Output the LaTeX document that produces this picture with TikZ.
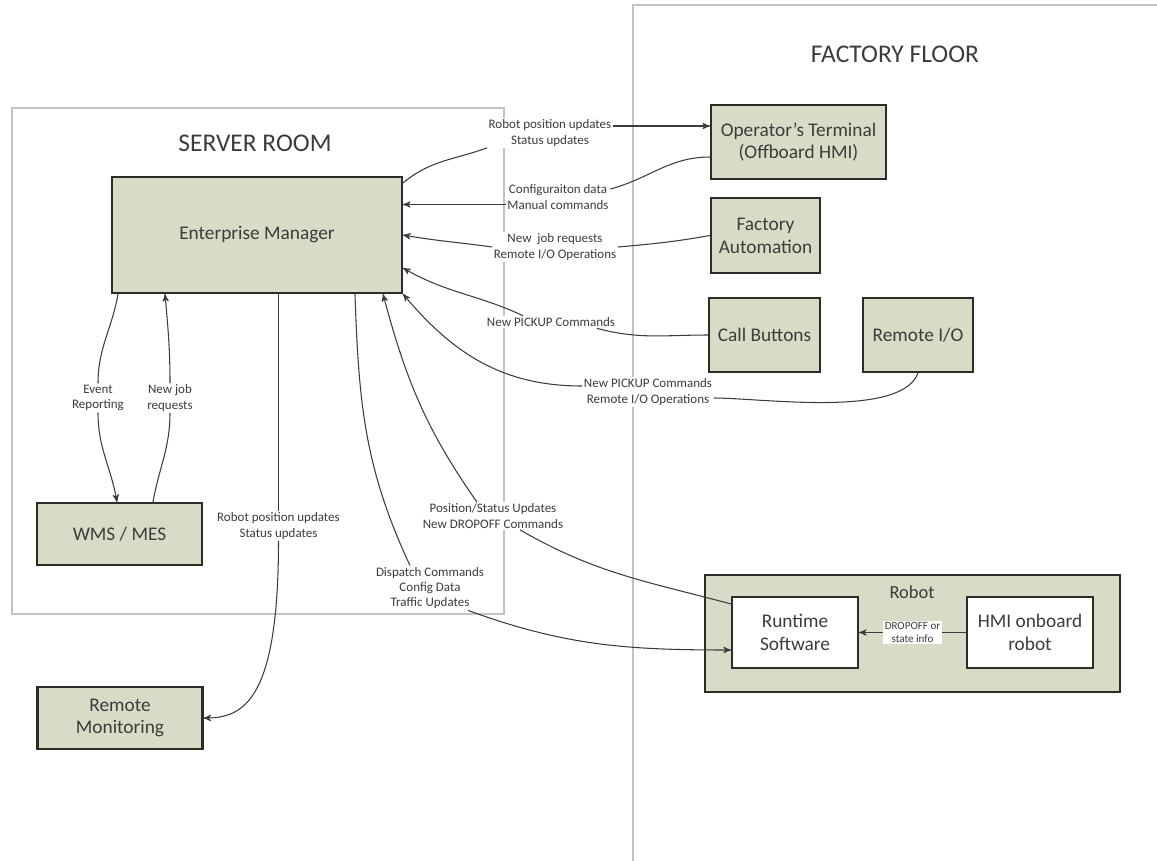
\documentclass[tikz,border=0pt]{standalone}
\usepackage{fontspec}
\setmainfont{Carlito}
\usepackage{tikz}
\usetikzlibrary{arrows,positioning}
\definecolor{boxfill}{RGB}{217,219,198}
\definecolor{edgegray}{RGB}{45,45,40}
\definecolor{textgray}{RGB}{60,60,60}
\definecolor{framegray}{RGB}{195,195,195}
\definecolor{linegray}{RGB}{60,60,60}
\tikzset{
  >=stealth',
  room/.style={draw=framegray, line width=1.5pt},
  roomtitle/.style={text=textgray, font=\fontsize{14.5}{17}\selectfont},
  unit/.style={rectangle, draw=edgegray, line width=1.2pt, fill=boxfill, text=textgray,
               align=center, inner sep=0pt, font=\fontsize{11}{13}\selectfont},
  subunit/.style={unit, fill=white},
  msg/.style={fill=white, text=textgray, align=center, inner sep=0.8pt,
              font=\fontsize{7.4}{8.6}\selectfont},
  tinymsg/.style={msg, font=\fontsize{6.3}{7.5}\selectfont},
  link/.style={draw=linegray, line width=0.6pt}
}

\begin{document}
\begin{tikzpicture}[x=0.02cm,y=-0.02cm]
      \useasboundingbox (0,0) rectangle (1157,860);

      % First draw the two rooms.
      \draw[room] (12,108) rectangle (504,614);
      \draw[room] (1165,5) -- (633,5) -- (633,870);
      \node[roomtitle] (srtitle) at (255,143) {SERVER ROOM};
      \node[roomtitle] (fftitle) at (895,54) {FACTORY FLOOR};

      % Units in the server room and outside it.
      \node[unit, minimum width=5.8cm, minimum height=2.32cm] (em) at (257,235) {Enterprise Manager};
      \node[unit, minimum width=3.3cm, minimum height=1.24cm] (wms) at (119.5,534) {WMS / MES};
      \node[unit, minimum width=3.3cm, minimum height=1.24cm] (rmon) at (120,718) {Remote\\Monitoring};

      % Units on the factory floor.
      \node[unit, minimum width=3.5cm, minimum height=1.48cm] (opterm) at (798.5,142) {Operator’s Terminal\\(Offboard HMI)};
      \node[unit, minimum width=2.18cm, minimum height=1.5cm] (factauto) at (765.5,235.5) {Factory\\Automation};
      \node[unit, minimum width=2.22cm, minimum height=1.48cm] (callbtn) at (764.5,335) {Call Buttons};
      \node[unit, minimum width=2.2cm, minimum height=1.48cm] (remio) at (918,335) {Remote I/O};

      % Robot with its two inner blocks.
      \node[unit, minimum width=8.3cm, minimum height=2.34cm] (robot) at (912.5,633.5) {};
      \node[text=textgray, font=\fontsize{10.5}{12}\selectfont] (robottitle) at (912,592) {Robot};
      \node[subunit, minimum width=2.52cm, minimum height=1.42cm] (runtime) at (795,632.5) {Runtime\\Software};
      \node[subunit, minimum width=2.52cm, minimum height=1.42cm] (hmi) at (1030,632.5) {HMI onboard\\robot};

      % Message labels.
      \node[msg] (msgA) at (550,133) {Robot position updates\\Status updates};
      \node[msg] (msgB) at (558,197) {Configuraiton data\\Manual commands};
      \node[msg] (msgC) at (555,247) {New\ \ job requests\\Remote I/O Operations};
      \node[msg] (msgD) at (551,322) {New PICKUP Commands};
      \node[msg] (msgE) at (648,392) {New PICKUP Commands\\Remote I/O Operations};
      \node[msg] (msgF) at (493,516) {Position/Status Updates\\New DROPOFF Commands};
      \node[msg] (msgG) at (430,588) {Dispatch Commands\\Config Data\\Traffic Updates};
      \node[msg] (msgH) at (278.5,526) {Robot position updates\\Status updates};
      \node[msg] (msgI) at (98,398) {Event\\Reporting};
      \node[msg] (msgJ) at (170,398) {New job\\requests};

      % Traffic with the operator's terminal.
      \draw[link] ([yshift=-0.14cm]em.north east) to[out=40,in=200] (msgA.south west);
      \draw[link,->] ([yshift=0.14cm]msgA.east) -- ([yshift=0.14cm]msgA.east -| opterm.west);
      \draw[link] ([yshift=-0.3cm]opterm.west) to[out=180,in=15] ([yshift=0.16cm]msgB.east);
      \draw[link,->] ([yshift=-0.15cm]msgB.west) -- ([yshift=-0.15cm]msgB.west -| em.east);

      % Factory automation, call buttons and remote I/O.
      \draw[link] (factauto.west) to[out=190,in=5] (msgC.east);
      \draw[link,->] (msgC.west) to[out=172,in=-10] (em.east);
      \draw[link] (callbtn.west) to[out=180,in=-15] ([xshift=-0.4cm]msgD.south east);
      \draw[link,->] ([xshift=-0.56cm]msgD.north) to[out=155,in=-30] ([yshift=-0.66cm]em.east);
      \draw[link] (remio.south) to[out=-110,in=0,looseness=0.6] ([yshift=-0.12cm]msgE.east);
      \draw[link,->] ([yshift=0.12cm]msgE.west) to[out=180,in=-50] (em.south east);

      % Robot traffic.
      \draw[link] ([yshift=-0.16cm]runtime.north west) to[out=165,in=-30] ([xshift=0.54cm]msgF.south);
      \draw[link,->] ([xshift=-0.32cm]msgF.north) to[out=125,in=-75] ([xshift=2.52cm]em.south);
      \draw[link] ([xshift=1.96cm]em.south) to[out=-88,in=115] ([xshift=-0.4cm]msgG.north);
      \draw[link,->] ([xshift=0.76cm]msgG.south) to[out=-20,in=180] ([yshift=-0.35cm]runtime.west);
      \draw[link,->] (hmi.west) -- node[tinymsg] (msgK) {DROPOFF or\\state info} (runtime.east);

      % Remote monitoring.
      \draw[link] (em.south -| msgH) -- (msgH);
      \draw[link,->] (msgH.south) .. controls +(0,160) and +(40,0) .. (rmon.east);

      % WMS / MES.
      \draw[link] ([xshift=-2.78cm]em.south) to[out=-100,in=90] (msgI.north);
      \draw[link,->] (msgI.south) to[out=-90,in=100] ([xshift=-0.05cm]wms.north);
      \draw[link] ([xshift=0.67cm]wms.north) to[out=80,in=-90] (msgJ.south);
      \draw[link,->] (msgJ.north) to[out=90,in=-85] ([xshift=-1.84cm]em.south);

    \end{tikzpicture}
\end{document}
